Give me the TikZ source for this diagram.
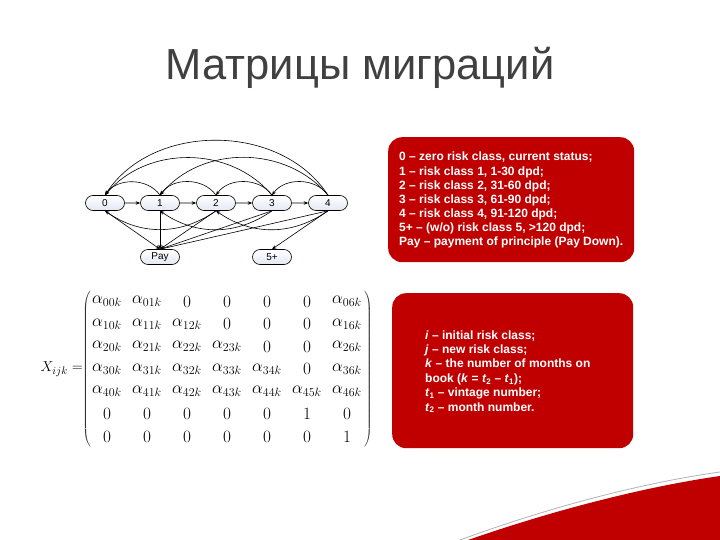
\documentclass[tikz,border=0pt]{standalone}
\usepackage{fontspec}
\setmainfont{Liberation Sans}
\usetikzlibrary{arrows.meta,matrix,shapes.misc}
\definecolor{boxred}{RGB}{192,0,0}
\definecolor{titlegray}{RGB}{64,64,64}
\definecolor{nodefill}{RGB}{226,232,244}
\begin{document}
\begin{tikzpicture}[x=1pt,y=-1pt,
  st/.style={draw=black, line width=0.6pt, rounded rectangle, minimum width=39pt, minimum height=15pt, inner sep=0pt, top color=white, bottom color=nodefill, font=\fontsize{10}{12}\selectfont},
  ed/.style={-{Stealth[length=4.5pt,width=3.5pt]}, line width=0.6pt},
  redbox/.style={fill=boxred, rounded corners=14pt, inner sep=0pt, anchor=north west},
  bt/.style={text=white, font=\fontsize{12}{14}\selectfont\bfseries, anchor=base west, inner sep=0pt},
  delim/.style={inner sep=0pt, text=black!80}
]
\useasboundingbox (0,0) rectangle (720,540);
\fill[white] (0,0) rectangle (720,540);

% title
\node[text=titlegray, font=\fontsize{43.5}{52}\selectfont] (title) at (360,68) {Матрицы миграций};

% graph nodes
\node[st] (n0) at (105,203) {0};
\node[st] (n1) at (160,203) {1};
\node[st] (n2) at (216,203) {2};
\node[st] (n3) at (272,203) {3};
\node[st] (n4) at (328,203) {4};
\node[st] (pay) at (160,257) {Pay};
\node[st] (five) at (272,257) {5+};

% forward
\draw[ed] (n0) -- (n1);
\draw[ed] (n1) -- (n2);
\draw[ed] (n2) -- (n3);
\draw[ed] (n3) -- (n4);
% backward above
\draw[ed] (n1.north) to[bend right=55] (n0.north);
\draw[ed] (n2.north) to[bend right=55] (n1.north);
\draw[ed] (n3.north) to[bend right=55] (n2.north);
\draw[ed] (n4.north) to[bend right=55] (n3.north);
\draw[ed] (n3.north) to[bend right=50] (n0.north);
\draw[ed] (n4.north) to[bend right=50] (n1.north);
\draw[ed] (n4.north) to[bend right=57] (n0.north);
% backward below
\draw[ed] (n2.south) to[bend left=35] (n0.south);
\draw[ed] (n3.south) to[bend left=35] (n1.south);
\draw[ed] (n4.south) to[bend left=35] (n2.south);
% to Pay and 5+
\draw[ed] (n0.south) -- (pay.north);
\draw[ed] (n1.south) -- (pay.north);
\draw[ed] (n2.south) -- (pay.north);
\draw[ed] (n3.south) -- (pay.north);
\draw[ed] (n4.south) -- (pay.north);
\draw[ed] (n4.south) -- (five.north);

% matrix
\node[anchor=east, font=\fontsize{15}{18}\selectfont, inner sep=0pt] (xlab) at (83,369) {$X_{ijk}=$};
\matrix (M) [matrix of math nodes,
  nodes={minimum width=38pt, minimum height=22pt, inner sep=0pt, anchor=center, font=\fontsize{17}{20}\selectfont},
  column sep=2pt, row sep=0.5pt] at (227,369) {
\alpha_{00k} & \alpha_{01k} & 0 & 0 & 0 & 0 & \alpha_{06k}\\
\alpha_{10k} & \alpha_{11k} & \alpha_{12k} & 0 & 0 & 0 & \alpha_{16k}\\
\alpha_{20k} & \alpha_{21k} & \alpha_{22k} & \alpha_{23k} & 0 & 0 & \alpha_{26k}\\
\alpha_{30k} & \alpha_{31k} & \alpha_{32k} & \alpha_{33k} & \alpha_{34k} & 0 & \alpha_{36k}\\
\alpha_{40k} & \alpha_{41k} & \alpha_{42k} & \alpha_{43k} & \alpha_{44k} & \alpha_{45k} & \alpha_{46k}\\
0 & 0 & 0 & 0 & 0 & 1 & 0\\
0 & 0 & 0 & 0 & 0 & 0 & 1\\
};
\node[delim] (lp) at (87,369) {$\left(\rule[-76pt]{0pt}{152pt}\right.$};
\node[delim] (rp) at (368,369) {$\left.\rule[-76pt]{0pt}{152pt}\right)$};

% red box 1
\node[redbox, minimum width=246pt, minimum height=125pt] (box1) at (388,137) {};
\node[bt] (a1) at (399,161) {0 – zero risk class, current status;};
\node[bt] (a2) at (399,175.1) {1 – risk class 1, 1-30 dpd;};
\node[bt] (a3) at (399,189.2) {2 – risk class 2, 31-60 dpd;};
\node[bt] (a4) at (399,203.3) {3 – risk class 3, 61-90 dpd;};
\node[bt] (a5) at (399,217.4) {4 – risk class 4, 91-120 dpd;};
\node[bt] (a6) at (399,231.5) {5+ – (w/o) risk class 5, >120 dpd;};
\node[bt] (a7) at (399,245.6) {Pay – payment of principle (Pay Down).};

% red box 2
\node[redbox, minimum width=241pt, minimum height=155pt] (box2) at (392,293) {};
\node[bt] (b1) at (425,339) {\textit{i} – initial risk class;};
\node[bt] (b2) at (425,353.4) {\textit{j} – new risk class;};
\node[bt] (b3) at (425,367.8) {\textit{k} – the number of months on};
\node[bt] (b4) at (425,382.2) {book (\textit{k} = \textit{t}\textsubscript{2} – \textit{t}\textsubscript{1});};
\node[bt] (b5) at (425,396.6) {\textit{t}\textsubscript{1} – vintage number;};
\node[bt] (b6) at (425,411) {\textit{t}\textsubscript{2} – month number.};

% bottom swoosh
\fill[boxred] (468,540) .. controls (560,508) and (650,486) .. (720,476) -- (720,540) -- cycle;
\draw[gray!60, line width=0.8pt] (460,540) .. controls (555,505) and (648,482) .. (720,472);
\end{tikzpicture}
\end{document}
